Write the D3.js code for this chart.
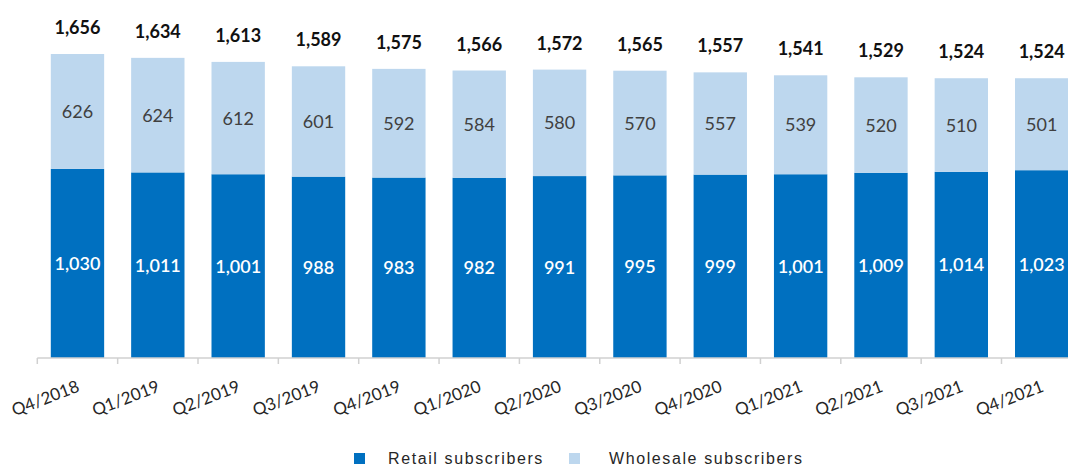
<!DOCTYPE html>
<html lang="en">
	<head>
		<meta charset="utf-8">
		<title>Retail and wholesale subscribers</title>
		<script type="text/javascript" src="https://d3js.org/d3.v7.min.js"></script>
		<style type="text/css">
			body{
				margin: 0;
				background: #fff;
			}
			svg{
				display: block;
			}
		</style>
	</head>
	<body>
		<script type="text/javascript">

			//Size
			var w = 1068;
			var h = 466;

			//Data
			var quarters = ["Q4/2018", "Q1/2019", "Q2/2019", "Q3/2019", "Q4/2019", "Q1/2020", "Q2/2020",
							"Q3/2020", "Q4/2020", "Q1/2021", "Q2/2021", "Q3/2021", "Q4/2021"];
			var retail = [1030, 1011, 1001, 988, 983, 982, 991, 995, 999, 1001, 1009, 1014, 1023];
			var wholesale = [626, 624, 612, 601, 592, 584, 580, 570, 557, 539, 520, 510, 501];
			var totals = [1656, 1634, 1613, 1589, 1575, 1566, 1572, 1565, 1557, 1541, 1529, 1524, 1524];
			var seriesNames = ["Retail subscribers", "Wholesale subscribers"];
			var colors = ["#0070c0", "#bdd7ee"];

			var rows = quarters.map(function(q, i) {
				return {q: q, retail: retail[i], wholesale: wholesale[i], total: totals[i]};
			});

			var stack = d3.stack().keys(["retail", "wholesale"]);
			var layers = stack(rows);

			//Scales
			var x = d3.scaleBand()
					  .domain(quarters)
					  .range([37.3, 37.3 + 80.35 * quarters.length])
					  .paddingInner(0.336)
					  .paddingOuter(0.168);

			var y = d3.scaleLinear()
					  .domain([0, 1656])
					  .range([358, 54]);

			var fmt = d3.format(",");
			var labelFont = "Lato, 'Open Sans', sans-serif";

			//SVG
			var svg = d3.select("body")
						.append("svg")
						.attr("width", w)
						.attr("height", h);

			//Bars
			var groups = svg.selectAll("g.layer")
							.data(layers)
							.enter()
							.append("g")
							.attr("class", "layer")
							.attr("fill", function(d, i) { return colors[i]; });

			groups.selectAll("rect")
				  .data(function(d) { return d; })
				  .enter()
				  .append("rect")
				  .attr("x", function(d) { return x(d.data.q); })
				  .attr("y", function(d) { return y(d[1]); })
				  .attr("width", x.bandwidth())
				  .attr("height", function(d) { return y(d[0]) - y(d[1]); });

			//Segment labels
			groups.selectAll("text")
				  .data(function(d) { return d; })
				  .enter()
				  .append("text")
				  .text(function(d) { return fmt(d[1] - d[0]); })
				  .attr("x", function(d) { return x(d.data.q) + x.bandwidth() / 2; })
				  .attr("y", function(d) { return (y(d[0]) + y(d[1])) / 2; })
				  .attr("dy", "0.36em")
				  .attr("text-anchor", "middle")
				  .attr("font-family", labelFont)
				  .attr("font-size", "18px")
				  .attr("font-weight", function() {
				  	return this.parentNode.__data__.key === "retail" ? 600 : 400;
				  })
				  .attr("fill", function() {
				  	return this.parentNode.__data__.key === "retail" ? "#ffffff" : "#404040";
				  });

			//Total labels
			svg.selectAll("text.total")
			   .data(rows)
			   .enter()
			   .append("text")
			   .attr("class", "total")
			   .text(function(d) { return fmt(d.total); })
			   .attr("x", function(d) { return x(d.q) + x.bandwidth() / 2; })
			   .attr("y", function(d) { return y(d.retail + d.wholesale) - 20; })
			   .attr("text-anchor", "middle")
			   .attr("font-family", labelFont)
			   .attr("font-size", "18px")
			   .attr("font-weight", "bold")
			   .attr("fill", "#111111");

			//Axis line and ticks between categories
			var step = x.step();
			var x0 = x.range()[0];
			svg.append("line")
			   .attr("x1", x0)
			   .attr("x2", x.range()[1])
			   .attr("y1", 358)
			   .attr("y2", 358)
			   .attr("stroke", "#d0d0d0")
			   .attr("stroke-width", 1.5);

			svg.selectAll("line.tick")
			   .data(d3.range(quarters.length + 1))
			   .enter()
			   .append("line")
			   .attr("class", "tick")
			   .attr("x1", function(i) { return x0 + i * step; })
			   .attr("x2", function(i) { return x0 + i * step; })
			   .attr("y1", 358)
			   .attr("y2", 364)
			   .attr("stroke", "#d0d0d0")
			   .attr("stroke-width", 1.5);

			//Category labels
			svg.selectAll("text.cat")
			   .data(quarters)
			   .enter()
			   .append("text")
			   .attr("class", "cat")
			   .text(function(d) { return d; })
			   .attr("transform", function(d) {
			   		return "translate(" + (x(d) + x.bandwidth() / 2 + 3) + ",391) rotate(-21)";
			   })
			   .attr("text-anchor", "end")
			   .attr("font-family", labelFont)
			   .attr("font-size", "17px")
			   .attr("fill", "#262626");

			//Legend
			var legendX = [354, 569];
			var legend = svg.selectAll("g.legend")
							.data(seriesNames)
							.enter()
							.append("g")
							.attr("class", "legend")
							.attr("transform", function(d, i) { return "translate(" + legendX[i] + ",453)"; });

			legend.append("rect")
				  .attr("width", 11)
				  .attr("height", 11)
				  .attr("fill", function(d, i) { return colors[i]; });

			legend.append("text")
				  .text(function(d) { return d; })
				  .attr("x", function(d, i) { return i === 0 ? 34 : 40; })
				  .attr("y", 11)
				  .attr("font-family", "'Liberation Sans', Arial, sans-serif")
				  .attr("font-size", "16px")
				  .attr("letter-spacing", "1.6px")
				  .attr("fill", "#262626");

		</script>
	</body>
</html>
